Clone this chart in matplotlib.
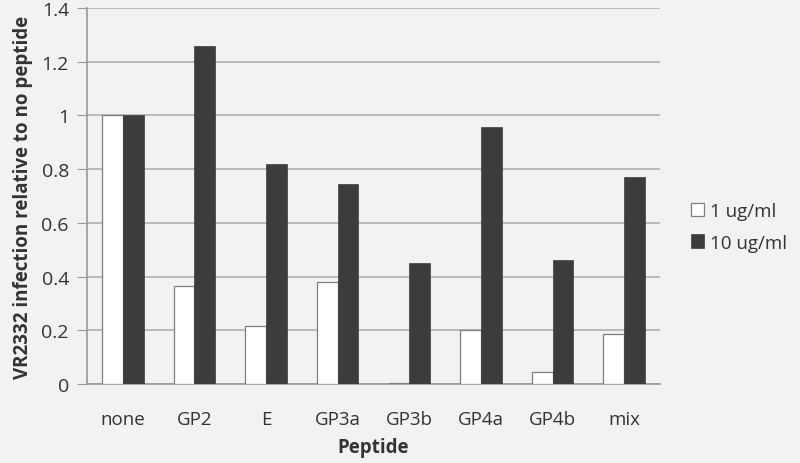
import matplotlib
matplotlib.use("Agg")
import matplotlib.pyplot as plt
import numpy as np

categories = ["none", "GP2", "E", "GP3a", "GP3b", "GP4a", "GP4b", "mix"]
low_dose = [1.0, 0.364, 0.216, 0.378, 0.003, 0.202, 0.045, 0.186]
high_dose = [1.0, 1.257, 0.820, 0.743, 0.449, 0.956, 0.460, 0.772]
series_names = ["1 ug/ml", "10 ug/ml"]
yticks = [0, 0.2, 0.4, 0.6, 0.8, 1, 1.2, 1.4]
ytick_labels = ["0", "0.2", "0.4", "0.6", "0.8", "1", "1.2", "1.4"]

plt.rcParams['font.family'] = ['Open Sans', 'DejaVu Sans']
bg = "#f2f2f2"
txt = "#333333"
fig = plt.figure(figsize=(8, 4.64), dpi=100, facecolor=bg)
ax = fig.add_axes([87/800, 1 - 385/464, (660-87)/800, (385-9)/464], facecolor=bg)

x = np.arange(len(categories))
w = 0.29
ax.bar(x - w/2, low_dose, w, color="white", edgecolor="#7f7f7f", linewidth=0.9, label=series_names[0], zorder=3)
ax.bar(x + w/2, high_dose, w, color="#3c3c3c", edgecolor="#3c3c3c", linewidth=0.5, label=series_names[1], zorder=3)

ax.set_xlim(-0.5, len(categories) - 0.5)
ax.set_ylim(0, 1.4)
ax.set_yticks(yticks)
ax.set_yticklabels(ytick_labels, fontsize=14, color=txt)
ax.set_xticks(x)
ax.set_xticklabels(categories, fontsize=13.5, color=txt)
ax.tick_params(axis='x', length=0, pad=19)
ax.tick_params(axis='y', length=7, color="#999999", pad=6)
ax.yaxis.grid(True, color="#b0b0b0", linewidth=1.2, zorder=0)
for s in ["top", "right"]:
    ax.spines[s].set_visible(False)
ax.spines["left"].set_color("#999999")
ax.spines["bottom"].set_color("#999999")
ax.spines["left"].set_linewidth(1.2)
ax.spines["bottom"].set_linewidth(1.2)

ax.set_xlabel("Peptide", fontsize=13.5, fontweight="bold", color=txt, labelpad=6)
ax.set_ylabel("VR2332 infection relative to no peptide", fontsize=13.5, fontweight="bold", color=txt, labelpad=6)

leg = fig.legend(loc="center left", bbox_to_anchor=(674/800, 1 - 228/464), frameon=False,
                 fontsize=13.5, handlelength=0.7, handleheight=0.7, handletextpad=0.3, labelspacing=0.7)
for t in leg.get_texts():
    t.set_color(txt)

fig.savefig("out.png", dpi=100, facecolor=bg)
